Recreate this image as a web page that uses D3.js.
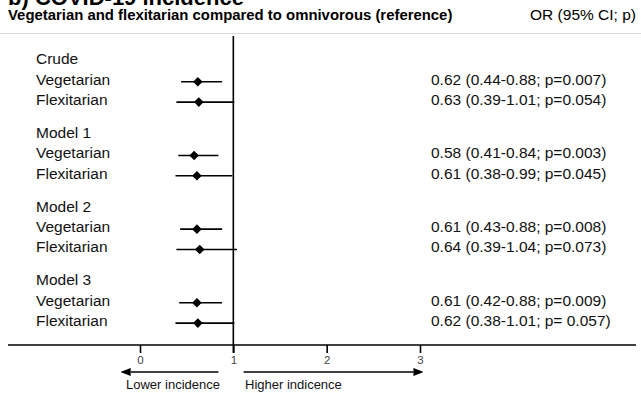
<!DOCTYPE html>
<html>
<head>
<meta charset="utf-8">
<script src="https://cdn.jsdelivr.net/npm/d3@7"></script>
<style>
  body { margin: 0; background: #fff; }
  text { font-family: Arial, "Liberation Sans", sans-serif; }
</style>
</head>
<body>
<svg id="chart" width="641" height="393"></svg>
<script>
// data
var models = ["Crude", "Model 1", "Model 2", "Model 3"];
var diets = ["Vegetarian", "Flexitarian"];
var orValues = [[0.62, 0.63], [0.58, 0.61], [0.61, 0.64], [0.61, 0.62]];
var ciLow = [[0.44, 0.39], [0.41, 0.38], [0.43, 0.39], [0.42, 0.38]];
var ciHigh = [[0.88, 1.01], [0.84, 0.99], [0.88, 1.04], [0.88, 1.01]];
var resultText = [
    ["0.62 (0.44-0.88; p=0.007)", "0.63 (0.39-1.01; p=0.054)"],
    ["0.58 (0.41-0.84; p=0.003)", "0.61 (0.38-0.99; p=0.045)"],
    ["0.61 (0.43-0.88; p=0.008)", "0.64 (0.39-1.04; p=0.073)"],
    ["0.61 (0.42-0.88; p=0.009)", "0.62 (0.38-1.01; p= 0.057)"]
];
var xTicks = [0, 1, 2, 3];

var svg = d3.select("#chart");

var x = d3.scaleLinear().domain([0, 3]).range([140, 420]);
// group start + row offset inside a group
var yGroup = d3.scaleLinear().domain([0, 3]).range([59, 280]);
var rowStep = 20.3;
var axisY = 345;
var refX = x(1);

// heading, cut off at the top edge as in the source image
svg.append("text")
    .attr("x", 8).attr("y", 4.5)
    .attr("font-size", 22).attr("font-weight", "bold")
    .text("b) COVID-19 incidence");

svg.append("text")
    .attr("x", 8).attr("y", 20)
    .attr("font-size", 14.9).attr("font-weight", "bold")
    .text("Vegetarian and flexitarian compared to omnivorous (reference)");

svg.append("text")
    .attr("x", 636).attr("y", 20)
    .attr("text-anchor", "end")
    .attr("font-size", 15.5)
    .text("OR (95% CI; p)");

svg.append("line")
    .attr("x1", 0).attr("x2", 641).attr("y1", 33.5).attr("y2", 33.5)
    .attr("stroke", "#d8d8d8").attr("stroke-width", 1);

// reference line at OR = 1
svg.append("line")
    .attr("x1", refX).attr("x2", refX).attr("y1", 36).attr("y2", axisY + 8)
    .attr("stroke", "#000").attr("stroke-width", 1.6);

// rows
var rows = [];
models.forEach(function(m, gi){
    diets.forEach(function(d, di){
        rows.push({ g: gi, d: di, name: d, or: orValues[gi][di],
            lo: ciLow[gi][di], hi: ciHigh[gi][di], txt: resultText[gi][di] });
    });
});

var labelSize = 15.5;

svg.selectAll(".model")
    .data(models)
    .enter()
    .append("text")
        .attr("class", "model")
        .attr("x", 36)
        .attr("y", function(d, i){ return yGroup(i); })
        .attr("dy", "0.35em")
        .attr("font-size", labelSize)
        .attr("fill", "#111")
        .text(function(d){ return d; });

function rowY(r){ return yGroup(r.g) + rowStep * (r.d + 1); }

svg.selectAll(".diet")
    .data(rows)
    .enter()
    .append("text")
        .attr("class", "diet")
        .attr("x", 36)
        .attr("y", rowY)
        .attr("dy", "0.35em")
        .attr("font-size", labelSize)
        .attr("fill", "#111")
        .text(function(d){ return d.name; });

svg.selectAll(".res")
    .data(rows)
    .enter()
    .append("text")
        .attr("class", "res")
        .attr("x", 431)
        .attr("y", rowY)
        .attr("dy", "0.35em")
        .attr("font-size", labelSize)
        .attr("fill", "#111")
        .text(function(d){ return d.txt; });

var markShift = 2.5;

svg.selectAll(".ci")
    .data(rows)
    .enter()
    .append("line")
        .attr("class", "ci")
        .attr("x1", function(d){ return x(d.lo); })
        .attr("x2", function(d){ return x(d.hi); })
        .attr("y1", function(d){ return rowY(d) + markShift; })
        .attr("y2", function(d){ return rowY(d) + markShift; })
        .attr("stroke", "#000").attr("stroke-width", 1.6);

// diamonds: squares turned by 45 degrees
svg.selectAll(".pt")
    .data(rows)
    .enter()
    .append("path")
        .attr("class", "pt")
        .attr("d", d3.symbol().type(d3.symbolSquare).size(46))
        .attr("transform", function(d){ return "translate(" + x(d.or) + "," + (rowY(d) + markShift) + ") rotate(45)"; })
        .attr("fill", "#000");

// x axis
svg.append("line")
    .attr("x1", 8).attr("x2", 636).attr("y1", axisY).attr("y2", axisY)
    .attr("stroke", "#000").attr("stroke-width", 1.6);

var axis = svg.append("g")
    .attr("transform", "translate(0," + axisY + ")")
    .call(d3.axisBottom(x).tickValues(xTicks).tickSize(8).tickPadding(3).tickFormat(d3.format("d")));
axis.select(".domain").remove();
axis.selectAll(".tick line").attr("stroke", "#000").attr("stroke-width", 1.6);
axis.selectAll(".tick text")
    .attr("font-size", 11.5)
    .attr("font-family", "Arial, 'Liberation Sans', sans-serif")
    .attr("fill", "#444");

// direction arrows
var defs = svg.append("defs");
defs.append("marker")
    .attr("id", "head")
    .attr("viewBox", "0 0 10 8")
    .attr("refX", 0).attr("refY", 4)
    .attr("markerWidth", 10).attr("markerHeight", 8)
    .attr("markerUnits", "userSpaceOnUse")
    .attr("orient", "auto")
    .append("path")
        .attr("d", "M0,0L10,4L0,8Z")
        .attr("fill", "#000");

var arrowY = 372;
svg.append("line")
    .attr("x1", x(0.84)).attr("x2", x(-0.1)).attr("y1", arrowY).attr("y2", arrowY)
    .attr("stroke", "#000").attr("stroke-width", 1.6)
    .attr("marker-end", "url(#head)");
svg.append("line")
    .attr("x1", x(1.11)).attr("x2", x(2.93)).attr("y1", arrowY).attr("y2", arrowY)
    .attr("stroke", "#000").attr("stroke-width", 1.6)
    .attr("marker-end", "url(#head)");

svg.append("text")
    .attr("x", 126).attr("y", 389)
    .attr("font-size", 13).attr("fill", "#111")
    .text("Lower incidence");
svg.append("text")
    .attr("x", 245).attr("y", 389)
    .attr("font-size", 13).attr("fill", "#111")
    .text("Higher indicence");
</script>
</body>
</html>
